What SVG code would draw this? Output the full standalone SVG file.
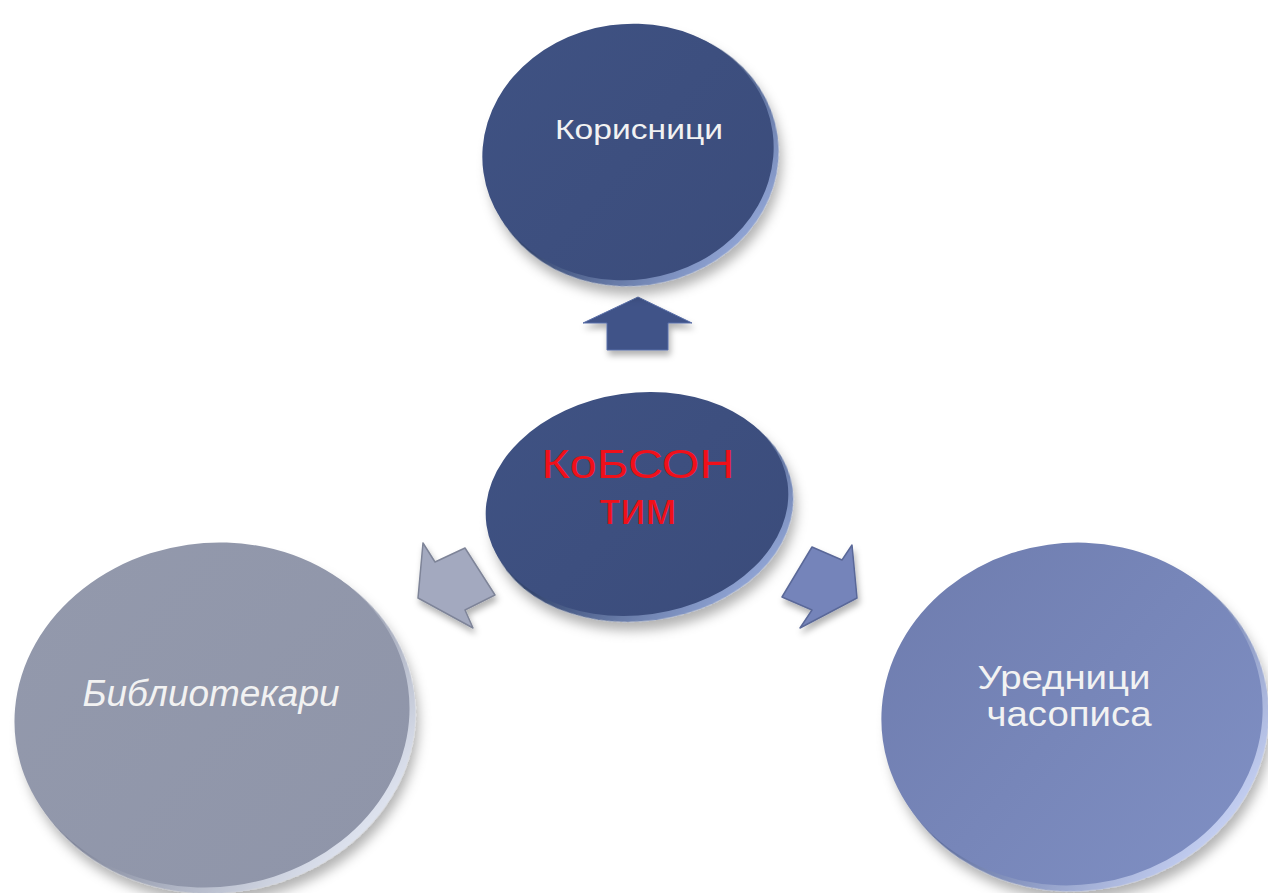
<svg xmlns="http://www.w3.org/2000/svg" width="1268" height="893" viewBox="0 0 1268 893">
  <style>
    .lbl { font-family: "Liberation Sans", Arial, sans-serif; fill: #f2f2f2; text-anchor: middle; }
    .red { font-family: "Liberation Sans", Arial, sans-serif; fill: #f0101a; text-anchor: middle; }
  </style>
  <defs>
    <filter id="sh" x="-20%" y="-20%" width="140%" height="150%">
      <feGaussianBlur in="SourceAlpha" stdDeviation="6"/>
      <feOffset dx="2" dy="9" result="b"/>
      <feFlood flood-color="#000" flood-opacity="0.3"/>
      <feComposite in2="b" operator="in"/>
      <feMerge><feMergeNode/><feMergeNode in="SourceGraphic"/></feMerge>
    </filter>
    <filter id="ash" x="-30%" y="-30%" width="160%" height="170%">
      <feGaussianBlur in="SourceAlpha" stdDeviation="3"/>
      <feOffset dx="2" dy="5" result="b"/>
      <feFlood flood-color="#000" flood-opacity="0.3"/>
      <feComposite in2="b" operator="in"/>
      <feMerge><feMergeNode/><feMergeNode in="SourceGraphic"/></feMerge>
    </filter>
    <linearGradient id="rimDark" x1="0" y1="0" x2="1" y2="1">
      <stop offset="0.45" stop-color="#34466f"/>
      <stop offset="0.85" stop-color="#8ea2d2"/>
      <stop offset="1" stop-color="#4a5e92"/>
    </linearGradient>
    <linearGradient id="rimGrey" x1="0" y1="0" x2="1" y2="1">
      <stop offset="0.45" stop-color="#80869a"/>
      <stop offset="0.85" stop-color="#dde2ee"/>
      <stop offset="1" stop-color="#9aa0b6"/>
    </linearGradient>
    <linearGradient id="rimBlue" x1="0" y1="0" x2="1" y2="1">
      <stop offset="0.45" stop-color="#60709f"/>
      <stop offset="0.85" stop-color="#c2cdf0"/>
      <stop offset="1" stop-color="#7a8bc2"/>
    </linearGradient>
    <linearGradient id="faceDark" x1="0" y1="0" x2="1" y2="1">
      <stop offset="0" stop-color="#3f5283"/>
      <stop offset="1" stop-color="#3b4c7b"/>
    </linearGradient>
    <linearGradient id="faceGrey" x1="0" y1="0" x2="1" y2="1">
      <stop offset="0" stop-color="#9399ac"/>
      <stop offset="1" stop-color="#8f95a9"/>
    </linearGradient>
    <linearGradient id="faceBlue" x1="0" y1="0" x2="1" y2="1">
      <stop offset="0" stop-color="#6e7cae"/>
      <stop offset="1" stop-color="#8090c4"/>
    </linearGradient>
  </defs>
  <rect width="1268" height="893" fill="#ffffff"/>

  <g id="connectors">
    <polygon filter="url(#ash)" points="638,297 692,323 668,323 668,350 607,350 607,323 583,323" fill="#3f5388" stroke="#5a6fa8" stroke-width="1"/>
    <polygon filter="url(#ash)" points="423,543 418,598 473,628 465,610 495,595 465,548 435,562" fill="#a3a9bf" stroke="#7e8498" stroke-width="1.5" stroke-linejoin="round"/>
    <polygon filter="url(#ash)" points="852,545 857,598 800,628 812,610 782,597 812,547 842,560" fill="#7584ba" stroke="#5a6898" stroke-width="1.5" stroke-linejoin="round"/>
  </g>

  <g id="node-korisnici">
    <ellipse cx="632" cy="156" rx="147" ry="130" fill="url(#rimDark)" filter="url(#sh)" transform="rotate(-8 632 156)"/>
    <ellipse cx="628" cy="152" rx="146" ry="128" fill="url(#faceDark)" transform="rotate(-8 628 152)"/>
    <text class="lbl" x="639" y="139" font-size="27" textLength="168" lengthAdjust="spacingAndGlyphs">Корисници</text>
  </g>

  <g id="node-kobson">
    <ellipse cx="641" cy="509" rx="153" ry="112" fill="url(#rimDark)" filter="url(#sh)" transform="rotate(-8 641 509)"/>
    <ellipse cx="637" cy="504" rx="152" ry="111" fill="url(#faceDark)" transform="rotate(-8 637 504)"/>
    <text class="red" x="638" y="478" font-size="41" textLength="193" lengthAdjust="spacingAndGlyphs">КоБСОН</text>
    <text class="red" x="638" y="524" font-size="44" textLength="77" lengthAdjust="spacingAndGlyphs">тим</text>
  </g>

  <g id="node-bibliotekari">
    <ellipse cx="217" cy="720" rx="199" ry="173" fill="url(#rimGrey)" filter="url(#sh)" transform="rotate(-8 217 720)"/>
    <ellipse cx="212" cy="715" rx="198" ry="172" fill="url(#faceGrey)" transform="rotate(-8 212 715)"/>
    <text class="lbl" x="211" y="706" font-size="36" font-style="italic" textLength="257" lengthAdjust="spacingAndGlyphs">Библиотекари</text>
  </g>

  <g id="node-urednici">
    <ellipse cx="1077" cy="719" rx="192" ry="172" fill="url(#rimBlue)" filter="url(#sh)" transform="rotate(-8 1077 719)"/>
    <ellipse cx="1072" cy="714" rx="191" ry="171" fill="url(#faceBlue)" transform="rotate(-8 1072 714)"/>
    <text class="lbl" x="1064" y="689" font-size="34" textLength="173" lengthAdjust="spacingAndGlyphs">Уредници</text>
    <text class="lbl" x="1069" y="726" font-size="35" textLength="165" lengthAdjust="spacingAndGlyphs">часописа</text>
  </g>
</svg>
